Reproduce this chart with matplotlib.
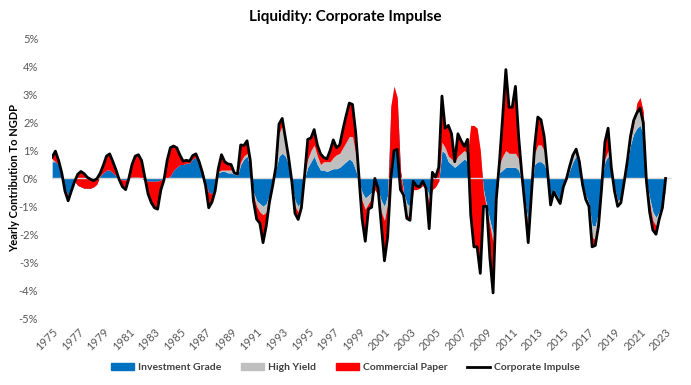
import numpy as np
import matplotlib.pyplot as plt
from matplotlib.patches import Patch
from matplotlib.lines import Line2D
from matplotlib.ticker import FuncFormatter

plt.rcParams['font.family'] = ['Lato', 'DejaVu Sans']

# quarterly, 1975Q1 .. 2023Q1, % of NGDP
quarters = np.arange(1975, 2023.01, 0.25)

impulse = [
    0.76, 0.98, 0.65, 0.2,   -0.45, -0.8, -0.45, -0.12,   0.15, 0.25, 0.17, 0.04,
    -0.03, -0.08, -0.01, 0.18,   0.47, 0.8, 0.88, 0.6,   0.3, -0.05, -0.3, -0.4,
    0.0, 0.5, 0.8, 0.85,   0.64, 0.05, -0.55, -0.86,   -1.05, -1.1, -0.42, -0.05,
    0.65, 1.1, 1.16, 1.1,   0.83, 0.62, 0.65, 0.62,   0.82, 0.88, 0.6, 0.22,
    -0.25, -1.05, -0.85, -0.45,   0.35, 0.85, 0.6, 0.52,   0.5, 0.2, 0.15, 1.2,
    1.18, 1.35, 0.65, -0.8,   -1.46, -1.6, -2.3, -1.7,   -0.85, -0.27, 0.4, 1.95,
    2.15, 1.45, 0.75, -0.1,   -1.25, -1.47, -1.05, 0.1,   1.4, 1.45, 1.75, 1.2,
    0.88, 0.75, 0.7, 1.0,   1.38, 1.1, 1.2, 1.75,   2.25, 2.7, 2.65, 1.65,
    0.1, -1.45, -2.25, -1.1,   -1.03, 0.0, -0.35, -1.65,   -2.95, -2.1, 0.0, 1.0,
    1.04, -0.4, -0.6, -1.43,   -1.5, -0.1, -0.27, -0.3,   -0.1, -0.35, -1.8, 0.22,
    0.05, 0.4, 2.95, 1.8,   1.9, 1.6, 0.6, 1.6,   1.35, 1.15, 1.4, -1.3,
    -2.45, -2.45, -3.4, -1.0,   -1.0, -2.85, -4.1, -0.75,   0.6, 2.2, 3.9, 2.55,
    2.55, 3.3, 1.5, 0.15,   -1.0, -2.3, -0.6, 1.15,   2.2, 2.1, 1.5, 0.32,
    -0.95, -0.48, -0.7, -0.9,   -0.3, 0.0, 0.45, 0.84,   1.05, 0.6, -0.22, -0.75,
    -1.0, -2.45, -2.4, -1.7,   -0.3, 1.3, 1.8, 0.4,   -0.45, -1.0, -0.87, -0.15,
    0.6, 1.5, 2.08, 2.35,   2.52, 2.0, -0.1, -1.2,   -1.85, -2.0, -1.46, -1.05,
    0.0,
]

inv_grade = [
    0.6, 0.6, 0.5, 0.2,   -0.4, -0.6, -0.4, -0.1,   -0.25, -0.3, -0.35, -0.35,
    -0.35, -0.3, -0.2, 0.1,   0.2, 0.3, 0.3, 0.2,   0.1, 0.0, -0.05, -0.05,
    0.0, 0.05, 0.05, 0.05,   0.0, -0.05, -0.1, -0.1,   -0.1, -0.1, -0.05, 0.0,
    0.0, 0.1, 0.3, 0.4,   0.5, 0.5, 0.55, 0.55,   0.7, 0.75, 0.55, 0.2,
    -0.2, -0.5, -0.55, -0.35,   0.2, 0.25, 0.25, 0.2,   0.2, 0.15, 0.1, 0.5,
    0.7, 0.8, 0.4, -0.5,   -0.8, -0.9, -1.0, -0.9,   -0.6, -0.2, 0.3, 0.8,
    0.9, 0.8, 0.5, -0.2,   -0.8, -1.0, -0.8, 0.0,   0.4, 0.6, 0.8, 0.5,
    0.3, 0.3, 0.25, 0.3,   0.35, 0.35, 0.4, 0.5,   0.6, 0.7, 0.6, 0.3,
    -0.1, -0.5, -0.7, -0.6,   -0.5, -0.3, -0.4, -0.8,   -1.0, -0.6, 2.5, 3.2,
    2.8, 0.3, -0.5, -0.9,   -1.0, -0.3, -0.3, -0.25,   -0.2, -0.3, -0.6, -0.3,
    -0.2, -0.1, 1.0, 0.9,   0.6, 0.5, 0.4, 0.5,   0.6, 0.7, 0.6, 1.5,
    1.6, 1.5, 0.8, -0.4,   -1.0, -1.5, -2.0, -0.7,   0.2, 0.3, 0.4, 0.4,
    0.4, 0.4, 0.3, -0.1,   -0.8, -1.6, -0.5, 0.5,   0.6, 0.6, 0.5, 0.2,
    -0.8, -0.4, -0.6, -0.8,   -0.3, -0.05, 0.3, 0.6,   0.8, 0.5, -0.2, -0.6,
    -0.9, -1.7, -1.7, -1.2,   -0.1, 0.6, 0.8, 0.3,   -0.3, -0.8, -0.7, -0.1,
    0.5, 1.2, 1.6, 1.8,   1.9, 1.6, -0.1, -0.7,   -1.2, -1.4, -1.2, -0.9,
    -0.4,
]

high_yield = [
    0.1, 0.0, 0.0, 0.0,   0.0, 0.0, 0.0, 0.0,   0.0, 0.0, 0.0, 0.0,
    0.0, 0.0, 0.0, 0.0,   0.0, 0.0, 0.0, 0.0,   0.0, 0.0, 0.0, 0.0,
    0.0, 0.0, 0.0, 0.0,   0.0, 0.0, 0.0, 0.0,   0.0, 0.0, 0.0, 0.0,
    0.0, 0.0, 0.0, 0.0,   0.0, 0.0, 0.0, 0.0,   0.0, 0.0, 0.0, 0.0,
    0.0, 0.0, 0.0, 0.0,   0.05, 0.05, 0.05, 0.1,   0.1, 0.1, 0.05, 0.1,
    0.1, 0.1, 0.05, -0.1,   -0.2, -0.3, -0.3, -0.3,   -0.15, -0.05, 0.1, 0.8,
    1.0, 0.5, 0.2, -0.1,   -0.2, -0.2, -0.15, 0.1,   0.3, 0.4, 0.4, 0.3,
    0.2, 0.3, 0.35, 0.3,   0.4, 0.5, 0.5, 0.6,   0.7, 0.8, 0.9, 0.6,
    0.0, -0.3, -0.4, -0.3,   -0.2, -0.1, -0.2, -0.4,   -0.5, -0.3, 0.1, 0.1,
    0.1, 0.0, -0.1, -0.4,   -0.4, -0.1, -0.1, -0.1,   -0.05, -0.1, -0.3, -0.1,
    -0.1, 0.0, 0.3, 0.2,   0.2, 0.2, 0.2, 0.3,   0.3, 0.3, 0.3, 0.4,
    0.3, 0.3, 0.2, -0.1,   -0.1, -0.2, -0.3, -0.1,   0.3, 0.5, 0.6, 0.5,
    0.5, 0.5, 0.4, 0.0,   -0.1, -0.2, -0.1, 0.4,   0.6, 0.6, 0.5, 0.1,
    -0.05, -0.05, -0.05, -0.05,   0.0, 0.0, 0.1, 0.25,   0.3, 0.2, 0.0, -0.1,
    -0.1, -0.4, -0.5, -0.3,   0.0, 0.1, 0.2, 0.1,   0.0, -0.1, -0.1, 0.0,
    0.1, 0.2, 0.3, 0.9,   1.0, 0.8, 0.0, -0.2,   -0.3, -0.3, -0.1, 0.1,
    0.3,
]

comm_paper = [
    0.06, 0.38, 0.15, 0.0,   -0.05, -0.2, -0.05, -0.02,   0.4, 0.55, 0.52, 0.39,
    0.32, 0.22, 0.19, 0.08,   0.27, 0.5, 0.58, 0.4,   0.2, -0.05, -0.25, -0.35,
    0.0, 0.45, 0.75, 0.8,   0.64, 0.1, -0.45, -0.76,   -0.95, -1.0, -0.37, -0.05,
    0.65, 1.0, 0.86, 0.7,   0.33, 0.12, 0.1, 0.07,   0.12, 0.13, 0.05, 0.02,
    -0.05, -0.55, -0.3, -0.1,   0.1, 0.55, 0.3, 0.22,   0.2, -0.05, 0.0, 0.6,
    0.38, 0.45, 0.2, -0.2,   -0.46, -0.4, -1.0, -0.5,   -0.1, -0.02, 0.0, 0.35,
    0.25, 0.15, 0.05, 0.2,   -0.25, -0.27, -0.1, 0.0,   0.7, 0.45, 0.55, 0.4,
    0.38, 0.15, 0.1, 0.4,   0.63, 0.25, 0.3, 0.65,   0.95, 1.2, 1.15, 0.75,
    0.2, -0.65, -1.15, -0.2,   -0.33, 0.4, 0.25, -0.45,   -1.45, -1.2, -2.6, -2.3,
    -1.86, -0.7, 0.0, -0.13,   -0.1, 0.3, 0.13, 0.05,   0.15, 0.05, -0.9, 0.62,
    0.35, 0.5, 1.65, 0.7,   1.1, 0.9, 0.0, 0.8,   0.45, 0.15, 0.5, -3.2,
    -4.35, -4.25, -4.4, -0.5,   0.1, -1.15, -1.8, 0.05,   0.1, 1.4, 2.9, 1.65,
    1.65, 2.4, 0.8, 0.25,   -0.1, -0.5, 0.0, 0.25,   1.0, 0.9, 0.5, 0.02,
    -0.1, -0.03, -0.05, -0.05,   0.0, 0.05, 0.05, -0.01,   -0.05, -0.1, -0.02, -0.05,
    0.0, -0.35, -0.2, -0.2,   -0.2, 0.6, 0.8, 0.0,   -0.15, -0.1, -0.07, -0.05,
    0.0, 0.1, 0.18, -0.35,   -0.38, -0.4, 0.0, -0.3,   -0.35, -0.3, -0.16, -0.25,
    0.1,
]

years = np.arange(1975, 2024, 2)

blue = '#0070C0'
grey = '#BFBFBF'
red = '#FF0000'
txt = '#595959'

ig = np.array(inv_grade)
hy = np.array(high_yield)
cp = np.array(comm_paper)
lvl1 = ig
lvl2 = ig + hy
lvl3 = ig + hy + cp

fig = plt.figure(figsize=(6.91, 3.85), dpi=100)
ax = fig.add_axes([0.0755, 0.174, 0.897, 0.725])

# excel style stacked area: each series sits on the running total
ax.fill_between(quarters, 0, lvl1, color=blue, lw=0, zorder=1)
ax.fill_between(quarters, lvl1, lvl2, color=grey, lw=0, zorder=1.1)
ax.fill_between(quarters, lvl2, lvl3, color=red, lw=0, zorder=1.2)
ax.axhline(0, color='#D9D9D9', lw=1, zorder=2)
ax.plot(quarters, impulse, color='black', lw=2, zorder=3)

ax.set_xlim(1975, 2023.5)
ax.set_ylim(-5, 5)
ax.set_xticks(years)
ax.set_xticklabels([str(y) for y in years], rotation=45, ha='right',
                   rotation_mode='anchor', fontsize=8, color=txt)
ax.set_yticks(np.arange(-5, 6, 1))
ax.yaxis.set_major_formatter(FuncFormatter(lambda v, p: f'{v:.0f}%'))
ax.tick_params(axis='y', labelsize=8, labelcolor=txt, length=0, pad=10)
ax.tick_params(axis='x', length=0, pad=6)
for s in ax.spines.values():
    s.set_visible(False)

ax.set_ylabel('Yearly Contribution To NGDP', fontsize=8, fontweight='bold',
              color='black', labelpad=-1)
fig.suptitle('Liquidity: Corporate Impulse', fontsize=11, fontweight='bold',
             y=0.975)

handles = [Patch(color=blue), Patch(color=grey), Patch(color=red),
           Line2D([], [], color='black', lw=2)]
labels = ['Investment Grade', 'High Yield', 'Commercial Paper', 'Corporate Impulse']
leg = fig.legend(handles, labels, loc='center', bbox_to_anchor=(0.5, 0.045),
                 ncol=4, frameon=False, fontsize=7.5, handlelength=2.2,
                 handleheight=0.6, columnspacing=1.9, handletextpad=0.4)
for t in leg.get_texts():
    t.set_color('#404040')
    t.set_fontweight('bold')

fig.savefig('out.png', dpi=100)
